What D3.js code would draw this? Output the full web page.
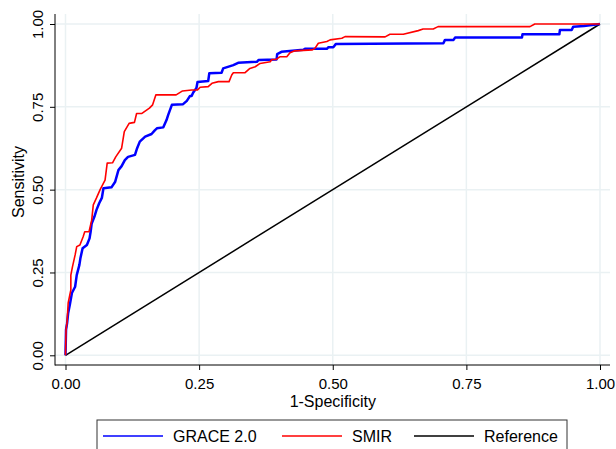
<!DOCTYPE html>
<html>
<head>
<meta charset="utf-8">
<script src="https://cdn.jsdelivr.net/npm/d3@7"></script>
<style>
  body { margin: 0; background: #fff; }
  text { font-family: "Liberation Sans", Arial, sans-serif; }
</style>
</head>
<body>
<svg id="chart" width="616" height="449"></svg>
<script>
// ROC curves: [1-specificity, sensitivity]
const graceRoc = [
  [0, 0], [0.001, 0.077], [0.003, 0.097], [0.005, 0.128], [0.008, 0.152], [0.012, 0.188],
  [0.018, 0.207], [0.021, 0.242], [0.026, 0.273], [0.028, 0.294], [0.032, 0.323], [0.040, 0.333],
  [0.045, 0.353], [0.047, 0.373], [0.049, 0.398], [0.054, 0.418], [0.058, 0.439], [0.063, 0.459],
  [0.068, 0.475], [0.071, 0.504], [0.086, 0.507], [0.093, 0.524], [0.099, 0.559], [0.105, 0.571],
  [0.111, 0.589], [0.117, 0.599], [0.130, 0.605], [0.134, 0.625], [0.139, 0.645], [0.149, 0.660],
  [0.161, 0.668], [0.167, 0.679], [0.171, 0.685], [0.183, 0.688], [0.189, 0.710], [0.192, 0.725],
  [0.199, 0.756], [0.220, 0.758], [0.227, 0.768], [0.233, 0.783], [0.236, 0.783], [0.239, 0.793],
  [0.245, 0.807], [0.247, 0.825], [0.267, 0.828], [0.269, 0.851], [0.292, 0.853], [0.295, 0.866],
  [0.314, 0.876], [0.323, 0.883], [0.358, 0.886], [0.361, 0.891], [0.395, 0.893], [0.396, 0.909],
  [0.404, 0.916], [0.445, 0.922], [0.448, 0.925], [0.489, 0.925], [0.492, 0.930], [0.501, 0.930],
  [0.506, 0.940], [0.707, 0.942], [0.710, 0.952], [0.726, 0.952], [0.729, 0.959], [0.854, 0.959],
  [0.855, 0.969], [0.924, 0.969], [0.925, 0.982], [0.947, 0.982], [0.950, 0.992], [0.970, 0.994],
  [1, 1]
];

const smirRoc = [
  [0, 0], [0.001, 0.077], [0.003, 0.101], [0.005, 0.158], [0.010, 0.197], [0.010, 0.242],
  [0.013, 0.267], [0.018, 0.303], [0.021, 0.328], [0.027, 0.333], [0.033, 0.358], [0.036, 0.373],
  [0.044, 0.373], [0.049, 0.408], [0.052, 0.454], [0.058, 0.475], [0.065, 0.501], [0.074, 0.529],
  [0.078, 0.580], [0.088, 0.581], [0.094, 0.599], [0.105, 0.625], [0.110, 0.675], [0.119, 0.700],
  [0.129, 0.703], [0.133, 0.730], [0.143, 0.730], [0.157, 0.746], [0.163, 0.756], [0.169, 0.786],
  [0.207, 0.786], [0.219, 0.798], [0.236, 0.801], [0.247, 0.801], [0.252, 0.809], [0.267, 0.811],
  [0.274, 0.821], [0.286, 0.826], [0.306, 0.826], [0.311, 0.846], [0.314, 0.853], [0.336, 0.853],
  [0.345, 0.866], [0.355, 0.871], [0.364, 0.881], [0.383, 0.886], [0.386, 0.893], [0.394, 0.893],
  [0.401, 0.901], [0.414, 0.901], [0.420, 0.913], [0.429, 0.919], [0.462, 0.922], [0.467, 0.927],
  [0.473, 0.942], [0.489, 0.947], [0.495, 0.952], [0.517, 0.957], [0.523, 0.962], [0.598, 0.961],
  [0.607, 0.969], [0.632, 0.969], [0.660, 0.980], [0.669, 0.985], [0.688, 0.985], [0.697, 0.992],
  [0.869, 0.992], [0.878, 1.0], [1, 1]
];

const referenceLine = [[0, 0], [1, 1]];

const tickValues = [0, 0.25, 0.5, 0.75, 1];
const seriesNames = ["GRACE 2.0", "SMIR", "Reference"];
const seriesColors = ["#0000ff", "#ff0000", "#000000"];

const svg = d3.select("#chart");
const plotLeft = 55, plotRight = 610, plotTop = 14, plotBottom = 365;

const x = d3.scaleLinear().domain([0, 1]).range([65.5, 600]);
const y = d3.scaleLinear().domain([0, 1]).range([355.3, 24]);
const fmt = d3.format(".2f");

// grid
const grid = svg.append("g");
grid.selectAll("line.vg")
    .data(tickValues)
    .enter().append("line")
    .attr("x1", d => x(d)).attr("x2", d => x(d))
    .attr("y1", plotTop).attr("y2", plotBottom)
    .attr("stroke", "#eaf1f3").attr("stroke-width", 1.5);
grid.selectAll("line.hg")
    .data(tickValues)
    .enter().append("line")
    .attr("y1", d => y(d)).attr("y2", d => y(d))
    .attr("x1", plotLeft).attr("x2", plotRight)
    .attr("stroke", "#eaf1f3").attr("stroke-width", 1.5);

// axes
const xAxis = svg.append("g")
    .attr("transform", `translate(0,${plotBottom})`)
    .call(d3.axisBottom(x).tickValues(tickValues).tickFormat(fmt).tickSize(5).tickSizeOuter(0));
xAxis.select(".domain").remove();
xAxis.selectAll("text")
    .attr("y", 24).attr("dy", 0)
    .style("font-size", "15px").attr("fill", "#000");

const yAxis = svg.append("g")
    .attr("transform", `translate(${plotLeft},0)`)
    .call(d3.axisLeft(y).tickValues(tickValues).tickFormat(fmt).tickSize(5).tickSizeOuter(0));
yAxis.select(".domain").remove();
yAxis.selectAll("text")
    .attr("x", 0).attr("y", 0).attr("dy", 0)
    .attr("transform", "translate(-12.5,0) rotate(-90)")
    .attr("text-anchor", "middle")
    .style("font-size", "15px").attr("fill", "#000");

svg.append("line")
    .attr("x1", plotLeft).attr("x2", plotLeft)
    .attr("y1", plotTop).attr("y2", plotBottom + 0.5)
    .attr("stroke", "#000").attr("stroke-width", 1);
svg.append("line")
    .attr("x1", plotLeft).attr("x2", plotRight)
    .attr("y1", plotBottom).attr("y2", plotBottom)
    .attr("stroke", "#000").attr("stroke-width", 1);

svg.append("text")
    .attr("x", x(0.5)).attr("y", 407)
    .attr("text-anchor", "middle")
    .style("font-size", "16px")
    .text("1-Specificity");

svg.append("text")
    .attr("transform", "translate(24,182) rotate(-90)")
    .attr("text-anchor", "middle")
    .style("font-size", "16px")
    .text("Sensitivity");

// curves
const line = d3.line().x(d => x(d[0])).y(d => y(d[1]));

svg.append("path")
    .datum(referenceLine)
    .attr("d", line)
    .attr("fill", "none").attr("stroke", seriesColors[2]).attr("stroke-width", 1.5);

svg.append("path")
    .datum(graceRoc)
    .attr("d", line)
    .attr("fill", "none").attr("stroke", seriesColors[0]).attr("stroke-width", 2.5)
    .attr("stroke-linejoin", "round");

svg.append("path")
    .datum(smirRoc)
    .attr("d", line)
    .attr("fill", "none").attr("stroke", seriesColors[1]).attr("stroke-width", 1.6)
    .attr("stroke-linejoin", "round");

// legend
const legend = svg.append("g");
legend.append("rect")
    .attr("x", 97).attr("y", 420).attr("width", 470).attr("height", 40)
    .attr("fill", "#fff").attr("stroke", "#333").attr("stroke-width", 1);

const legendX = [103, 282, 414];
const items = legend.selectAll("g.item")
    .data(seriesNames)
    .enter().append("g")
    .attr("transform", (d, i) => `translate(${legendX[i]},436)`);
items.append("line")
    .attr("x1", 0).attr("x2", 60)
    .attr("stroke", (d, i) => seriesColors[i]).attr("stroke-width", 1.5);
items.append("text")
    .attr("x", 70).attr("dy", "0.35em")
    .style("font-size", "16px")
    .text(d => d);
</script>
</body>
</html>
